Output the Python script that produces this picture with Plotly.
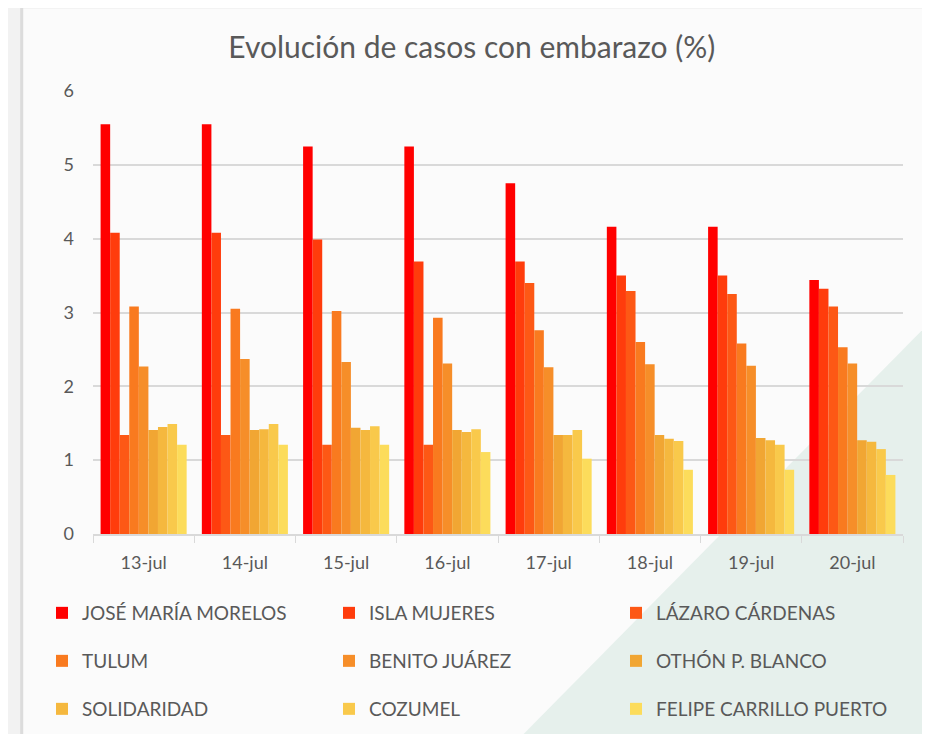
import plotly.graph_objects as go

# Datos
fechas = ["13-jul", "14-jul", "15-jul", "16-jul", "17-jul", "18-jul", "19-jul", "20-jul"]

municipios = ["JOSÉ MARÍA MORELOS", "ISLA MUJERES", "LÁZARO CÁRDENAS",
              "TULUM", "BENITO JUÁREZ", "OTHÓN P. BLANCO",
              "SOLIDARIDAD", "COZUMEL", "FELIPE CARRILLO PUERTO"]

jose_maria_morelos = [5.55, 5.55, 5.25, 5.25, 4.75, 4.16, 4.16, 3.44]
isla_mujeres = [4.08, 4.08, 3.99, 3.69, 3.69, 3.50, 3.50, 3.32]
lazaro_cardenas = [1.34, 1.34, 1.21, 1.21, 3.40, 3.29, 3.25, 3.08]
tulum = [3.08, 3.05, 3.02, 2.93, 2.76, 2.60, 2.58, 2.53]
benito_juarez = [2.27, 2.37, 2.33, 2.31, 2.26, 2.30, 2.28, 2.31]
othon_p_blanco = [1.41, 1.41, 1.44, 1.41, 1.34, 1.34, 1.30, 1.27]
solidaridad = [1.45, 1.42, 1.41, 1.38, 1.34, 1.29, 1.27, 1.25]
cozumel = [1.49, 1.49, 1.46, 1.42, 1.41, 1.26, 1.21, 1.15]
felipe_carrillo_puerto = [1.21, 1.21, 1.21, 1.11, 1.02, 0.87, 0.87, 0.80]

valores = [jose_maria_morelos, isla_mujeres, lazaro_cardenas, tulum, benito_juarez,
           othon_p_blanco, solidaridad, cozumel, felipe_carrillo_puerto]

colores = ["#FF0000", "#FF3C0C", "#FD5815", "#F97A1F", "#F68E29",
           "#F1A633", "#F5B83E", "#F9C94B", "#FCDC5B"]

fuente = "Lato, 'Open Sans', sans-serif"
gris = "#595959"

W, H = 922, 726  # la página añade 8 px de margen

fig = go.Figure()

# una leyenda por municipio, en una rejilla de 3 x 3
leyendas = {}
for i, (nombre, y, c) in enumerate(zip(municipios, valores, colores)):
    clave = "legend" if i == 0 else f"legend{i + 1}"
    fig.add_bar(
        x=fechas, y=y, name=nombre,
        marker=dict(color=c, line=dict(width=0)),
        legend=clave, showlegend=True,
    )
    col, fila = i % 3, i // 3
    leyendas[clave] = dict(
        xref="container", yref="container",
        x=(34 + 287 * col) / W, y=1 - (605 + 48 * fila) / H,
        xanchor="left", yanchor="middle",
        font=dict(family=fuente, size=19, color=gris),
        bgcolor="rgba(0,0,0,0)", itemwidth=30,
    )

fig.update_layout(
    width=W, height=H,
    showlegend=True,
    margin=dict(l=85, r=27, t=83, b=200, autoexpand=False),
    paper_bgcolor="#F2F2F2",
    plot_bgcolor="rgba(0,0,0,0)",
    barmode="group", bargap=0.15, bargroupgap=0,
    font=dict(family=fuente, color=gris),
    title=dict(text="Evolución de casos con embarazo (%)",
               x=0.503, xanchor="center", y=0.946, yanchor="middle",
               font=dict(family=fuente, size=30, color=gris)),
    yaxis=dict(range=[0, 6], dtick=1, showgrid=True, gridcolor="#D9D9D9", gridwidth=1.5,
               zeroline=False, showline=False, ticks="",
               tickfont=dict(family=fuente, size=18, color=gris), ticklabelstandoff=18),
    xaxis=dict(showline=True, linecolor="#D9D9D9", linewidth=1.5,
               ticks="outside", tickson="boundaries", ticklen=7, tickcolor="#D9D9D9",
               tickfont=dict(family=fuente, size=18, color=gris), ticklabelstandoff=12),
    shapes=[
        # marco exterior
        dict(type="rect", xref="paper", yref="paper", layer="below",
             x0=-0.088, x1=1.031, y0=-0.47, y1=1.19,
             line=dict(color="#DCDCDC", width=3), fillcolor="#FBFBFB"),
        # triángulo verdoso del fondo
        dict(type="path", xref="paper", yref="paper", layer="below",
             path="M 1.029 0.47 L 1.029 -0.46 L 0.527 -0.46 Z",
             fillcolor="#E6F0EC", line=dict(width=0)),
    ],
    **leyendas,
)

fig.write_html("out.html")
